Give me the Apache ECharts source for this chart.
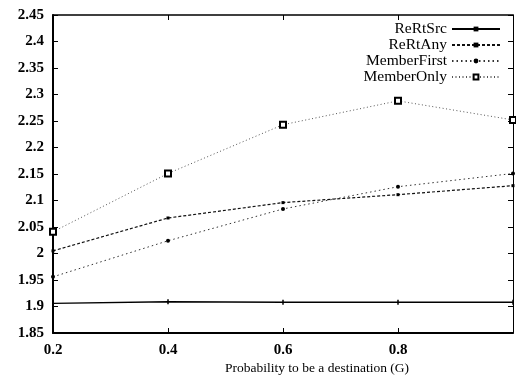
<!DOCTYPE html>
<html><head><meta charset="utf-8">
<script src="https://cdn.jsdelivr.net/npm/echarts@6/dist/echarts.min.js"></script>
<style>html,body{margin:0;padding:0;background:#fff}#c{width:516px;height:378px}</style>
</head><body><div id="c"></div>
<script>
const xValues = [0.2, 0.4, 0.6, 0.8, 1.0];
const seriesNames = ["ReRtSrc", "ReRtAny", "MemberFirst", "MemberOnly"];
const reRtSrc = [1.906, 1.909, 1.908, 1.908, 1.908];
const reRtAny = [2.005, 2.067, 2.096, 2.111, 2.128];
const memberFirst = [1.956, 2.024, 2.084, 2.126, 2.151];
const memberOnly = [2.041, 2.151, 2.243, 2.288, 2.252];
const xLabelTitle = "Probability to be a destination (G)";

const font = "Liberation Serif";
const pairs = v => xValues.map((x, i) => [x, v[i]]);
const chart = echarts.init(document.getElementById('c'));
const tickStyle = {show: true, inside: true, length: 5, lineStyle: {color: '#000', width: 1}};
chart.setOption({
  animation: false,
  backgroundColor: '#fff',
  grid: {left: 53, top: 15, bottom: 45, right: -3},
  title: {text: xLabelTitle, left: 220, top: 356,
    textStyle: {fontFamily: font, fontSize: 13.5, fontWeight: 'normal', color: '#000'}},
  legend: {
    orient: 'vertical', right: 10, top: 16, align: 'right',
    itemWidth: 48, itemHeight: 6, itemGap: 0,
    textStyle: {fontFamily: font, fontSize: 15.5, lineHeight: 15, color: '#000'},
    data: seriesNames
  },
  xAxis: [{
    type: 'value', min: 0.2, max: 1.0, interval: 0.2, position: 'bottom',
    axisLine: {show: true, lineStyle: {color: '#000', width: 2}},
    axisTick: tickStyle, splitLine: {show: false},
    axisLabel: {fontFamily: font, fontSize: 15, fontWeight: 'bold', color: '#000', margin: 10,
      formatter: v => (Math.abs(v - 1) < 1e-9 ? '' : String(+v.toFixed(2)))}
  }, {
    type: 'value', min: 0.2, max: 1.0, interval: 0.2, position: 'top',
    axisLine: {show: true, onZero: false, lineStyle: {color: '#000', width: 1.5}},
    axisTick: tickStyle, splitLine: {show: false}, axisLabel: {show: false}
  }],
  yAxis: [{
    type: 'value', min: 1.85, max: 2.45, interval: 0.05,
    axisLine: {show: true, lineStyle: {color: '#000', width: 2}},
    axisTick: tickStyle, splitLine: {show: false},
    axisLabel: {fontFamily: font, fontSize: 15, fontWeight: 'bold', color: '#000', margin: 9,
      formatter: v => String(+v.toFixed(2))}
  }, {
    type: 'value', min: 1.85, max: 2.45, interval: 0.05, position: 'right',
    axisLine: {show: true, onZero: false, lineStyle: {color: '#000', width: 1}},
    axisTick: tickStyle, splitLine: {show: false}, axisLabel: {show: false}
  }],
  series: [
    {name: seriesNames[0], type: 'line', data: pairs(reRtSrc),
      symbol: 'rect', symbolSize: [1.5, 5], lineStyle: {color: '#000', width: 1.3, type: 'solid'},
      itemStyle: {color: '#000'}},
    {name: seriesNames[1], type: 'line', data: pairs(reRtAny),
      symbol: 'rect', symbolSize: 3, lineStyle: {color: '#111', width: 1.2, type: [3, 2]},
      itemStyle: {color: '#000'}},
    {name: seriesNames[2], type: 'line', data: pairs(memberFirst),
      symbol: 'circle', symbolSize: 4, lineStyle: {color: '#333', width: 1, type: [1.5, 3]},
      itemStyle: {color: '#000'}},
    {name: seriesNames[3], type: 'line', data: pairs(memberOnly),
      symbol: 'emptyRect', symbolSize: 6, lineStyle: {color: '#555', width: 1, type: [1, 2.5]},
      itemStyle: {color: '#000', borderColor: '#000', borderWidth: 1}}
  ]
});
</script></body></html>
